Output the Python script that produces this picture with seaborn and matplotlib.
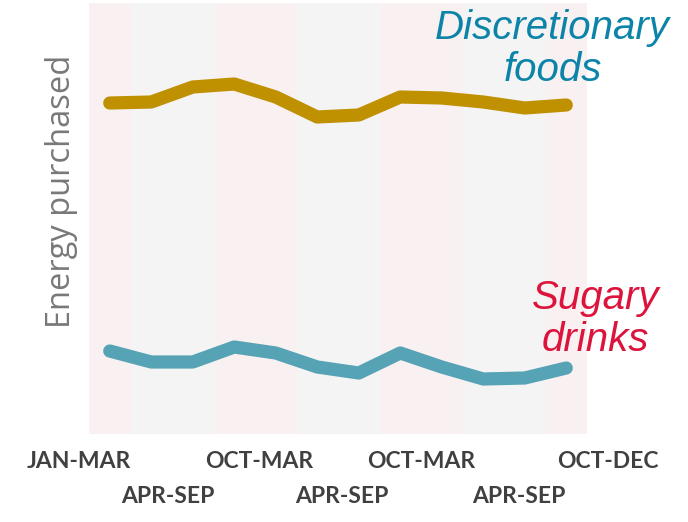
import numpy as np
import pandas as pd
import matplotlib
matplotlib.use("Agg")
import matplotlib.pyplot as plt
import seaborn as sns

# ---- data ----
quarters = list(range(12))
discretionary = [331, 332, 347, 350, 337, 317, 319, 337, 336, 332, 326, 329]
sugary = [83, 72, 72, 87, 81, 67, 61, 81, 67, 55, 56, 66]
period_labels = ["JAN-MAR", "APR-SEP", "OCT-MAR", "APR-SEP", "OCT-MAR", "APR-SEP", "OCT-DEC"]
period_quarters = [1, 2, 2, 2, 2, 2, 1]
series_names = ["Discretionary foods", "Sugary drinks"]

# ---- layout ----
label_x = [-0.74, 1.41, 3.6, 5.6, 7.5, 9.86, 12.0]
band_colors = ["#f9f0f1", "#f4f4f4"]

df = pd.DataFrame({
    "quarter": quarters * 2,
    "energy": discretionary + sugary,
    "series": [series_names[0]] * 12 + [series_names[1]] * 12,
})

sns.set_style("white")
fig = plt.figure(figsize=(6.88, 5.22), dpi=100)
ax = fig.add_axes([89 / 688, 1 - 434 / 522, 498 / 688, 431 / 522])

# alternating half-year bands
start = -0.5
for i, n in enumerate(period_quarters):
    ax.axvspan(start, start + n, color=band_colors[i % 2], lw=0, zorder=0)
    start += n

sns.lineplot(data=df, x="quarter", y="energy", hue="series",
             palette={series_names[0]: "#bf9000", series_names[1]: "#55a3b5"},
             linewidth=9.5, ax=ax, legend=False, zorder=3)
for line in ax.get_lines():
    line.set_solid_capstyle("round")
    line.set_solid_joinstyle("round")

ax.set_xlim(-0.5, 11.5)
ax.set_ylim(0, 431)
ax.set_xticks([])
ax.set_yticks([])
ax.set_xlabel("")
for s in ax.spines.values():
    s.set_visible(False)

ax.set_ylabel("Energy purchased", family=["Open Sans", "DejaVu Sans"],
              fontsize=23.5, color="#787878")
ax.yaxis.set_label_coords(-0.022, 0.564)

# period labels (staggered)
tr = ax.get_xaxis_transform()
for i, (lab, x) in enumerate(zip(period_labels, label_x)):
    y = -0.079 if i % 2 == 0 else -0.160
    ax.text(x, y, lab, transform=tr, ha="center", va="baseline",
            family=["Lato", "DejaVu Sans"], fontweight="bold",
            fontsize=16.5, color="#404040", clip_on=False)

ax.text(10.67, 385, "Discretionary\nfoods", ha="center", va="center",
        family=["Liberation Sans", "DejaVu Sans"], style="italic",
        fontsize=29, color="#0c84a9", clip_on=False, linespacing=1.15)
ax.text(11.7, 115, "Sugary\ndrinks", ha="center", va="center",
        family=["Liberation Sans", "DejaVu Sans"], style="italic",
        fontsize=29, color="#dc143c", clip_on=False, linespacing=1.15)

fig.savefig("out.png", dpi=100)
